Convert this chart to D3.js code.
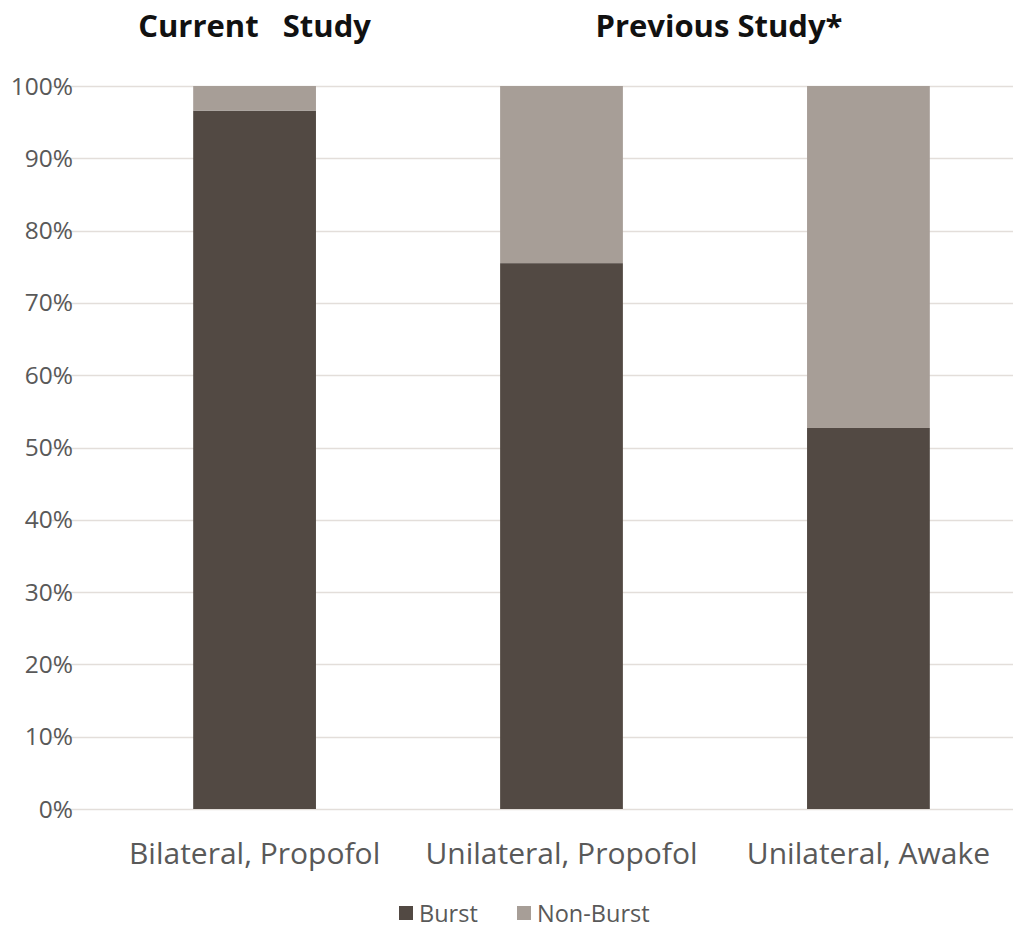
<!DOCTYPE html>
<html>
<head>
<meta charset="utf-8">
<script src="https://cdn.jsdelivr.net/npm/d3@7"></script>
<style>
  html, body { margin: 0; padding: 0; background: #fff; }
  svg { display: block; }
</style>
</head>
<body>
<svg id="chart" width="1013" height="928"></svg>
<script>
// Data
const categories = ["Bilateral, Propofol", "Unilateral, Propofol", "Unilateral, Awake"];
const burst = [96.6, 75.5, 52.7];
const nonBurst = [3.4, 24.5, 47.3];
const seriesNames = ["Burst", "Non-Burst"];
const yTicks = [0, 10, 20, 30, 40, 50, 60, 70, 80, 90, 100];
const groupTitles = ["Current   Study", "Previous Study*"];

const colors = { "Burst": "#524943", "Non-Burst": "#a79e97" };
const font = "'Open Sans', 'Noto Sans', sans-serif";

const svg = d3.select("#chart");
const W = 1013, H = 928;
const plotTop = 86, plotBottom = 809, gridLeft = 52;

const x = d3.scaleBand()
  .domain(categories)
  .range([52, 1071])
  .paddingInner(0.6)
  .paddingOuter(0.46);

const y = d3.scaleLinear().domain([0, 100]).range([plotBottom, plotTop]);

// Gridlines
svg.append("g").selectAll("line")
  .data(yTicks)
  .join("line")
  .attr("x1", gridLeft).attr("x2", W)
  .attr("y1", d => Math.round(y(d)) + 0.5).attr("y2", d => Math.round(y(d)) + 0.5)
  .attr("stroke", "#e3deda")
  .attr("stroke-width", 1.5);

// Y axis labels
const yAxis = d3.axisLeft(y).tickValues(yTicks).tickFormat(d => d + "%").tickSize(0).tickPadding(0);
const yg = svg.append("g").attr("transform", "translate(73,0)").call(yAxis);
yg.select(".domain").remove();
yg.selectAll("text")
  .attr("font-family", font)
  .attr("font-size", 24.5)
  .attr("fill", "#595959")
  .attr("dy", 8);

// Stacked bars
const rows = categories.map((c, i) => ({ cat: c, "Burst": burst[i], "Non-Burst": nonBurst[i] }));
const stack = d3.stack().keys(seriesNames)(rows);

svg.append("g").selectAll("g")
  .data(stack)
  .join("g")
  .attr("fill", d => colors[d.key])
  .selectAll("rect")
  .data(d => d)
  .join("rect")
  .attr("x", d => x(d.data.cat))
  .attr("width", x.bandwidth())
  .attr("y", d => y(d[1]))
  .attr("height", d => y(d[0]) - y(d[1]));

// Category labels
const xAxis = d3.axisBottom(x).tickSize(0).tickPadding(0);
const xg = svg.append("g").attr("transform", `translate(0,${plotBottom})`).call(xAxis);
xg.select(".domain").remove();
xg.selectAll("text")
  .attr("font-family", font)
  .attr("font-size", 30)
  .attr("fill", "#595959")
  .attr("y", 55)
  .attr("dy", 0);

// Group titles
const titleX = [
  x(categories[0]) + x.bandwidth() / 2,
  (x(categories[1]) + x(categories[2]) + x.bandwidth()) / 2 + 4
];
svg.append("g").selectAll("text")
  .data(groupTitles)
  .join("text")
  .attr("x", (d, i) => titleX[i])
  .attr("y", 37)
  .attr("text-anchor", "middle")
  .attr("font-family", font)
  .attr("font-weight", "bold")
  .attr("font-size", 31)
  .attr("fill", "#111")
  .style("white-space", "pre")
  .text(d => d);

// Legend
const legend = svg.append("g").attr("transform", "translate(0,922)");
const legendItems = [
  { name: "Burst", x: 399 },
  { name: "Non-Burst", x: 517 }
];
const li = legend.selectAll("g").data(legendItems).join("g")
  .attr("transform", d => `translate(${d.x},0)`);
li.append("rect")
  .attr("x", 0).attr("y", -16)
  .attr("width", 14).attr("height", 14)
  .attr("fill", d => colors[d.name]);
li.append("text")
  .attr("x", 20).attr("y", 0)
  .attr("font-family", font)
  .attr("font-size", 23.5)
  .attr("fill", "#595959")
  .text(d => d.name);
</script>
</body>
</html>
